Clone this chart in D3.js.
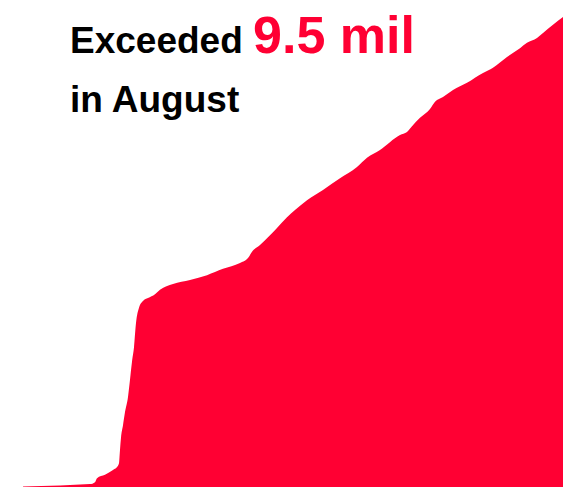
<!DOCTYPE html>
<html>
<head>
<meta charset="utf-8">
<script src="https://cdn.jsdelivr.net/npm/d3@7"></script>
<style>
  html, body { margin: 0; padding: 0; background: #fff; }
  svg { display: block; }
</style>
</head>
<body>
<svg id="chart" width="563" height="487"></svg>
<script>
// Cumulative total (millions) by day since the start of the series
const days = [0, 37, 57, 67, 72, 74, 82, 90, 94, 96,
  97, 98, 100, 102, 105, 107, 109, 111, 113, 116,
  120, 125, 132, 137, 150, 167, 184, 200, 217, 225,
  229, 237, 245, 254, 264, 272, 284, 300, 317, 334,
  344, 357, 377, 384, 389, 397, 407, 412, 420, 430,
  444, 460, 470, 484, 497, 504, 514, 520, 530, 540];
const totals = [0.01, 0.03, 0.05, 0.06, 0.10, 0.18, 0.25, 0.35, 0.41, 0.49,
  0.76, 1.01, 1.27, 1.54, 1.85, 2.20, 2.57, 2.87, 3.37, 3.68,
  3.82, 3.88, 3.96, 4.05, 4.17, 4.25, 4.35, 4.48, 4.60, 4.70,
  4.83, 4.97, 5.13, 5.32, 5.54, 5.69, 5.89, 6.10, 6.34, 6.57,
  6.76, 6.92, 7.23, 7.29, 7.41, 7.58, 7.76, 7.91, 8.01, 8.15,
  8.30, 8.50, 8.61, 8.83, 9.01, 9.12, 9.22, 9.32, 9.49, 9.65];

const headlineLead = "Exceeded";
const headlineValue = "9.5 mil";
const headlineTail = "in August";

const W = 563, H = 487;
const RED = "#ff0033";
const svg = d3.select("#chart");

const x = d3.scaleLinear().domain([0, 540]).range([23, 563]);
const y = d3.scaleLinear().domain([0, 10]).range([H, 0]);

const data = days.map((d, i) => ({ d, v: totals[i] }));

const area = d3.area()
  .x(p => x(p.d))
  .y0(y(0))
  .y1(p => y(p.v))
  .curve(d3.curveMonotoneX);

svg.append("path")
  .datum(data)
  .attr("d", area)
  .attr("fill", RED);

// Headline
const font = "'Liberation Sans', Arial, Helvetica, sans-serif";
const t1 = svg.append("text")
  .attr("x", 70).attr("y", 53)
  .attr("font-family", font)
  .attr("font-weight", "bold");
t1.append("tspan").attr("font-size", 37).attr("fill", "#000").text(headlineLead + " ");
t1.append("tspan").attr("font-size", 52).attr("fill", RED).text(headlineValue);

svg.append("text")
  .attr("x", 70).attr("y", 112)
  .attr("font-family", font)
  .attr("font-weight", "bold")
  .attr("font-size", 37)
  .attr("fill", "#000")
  .text(headlineTail);
</script>
</body>
</html>
